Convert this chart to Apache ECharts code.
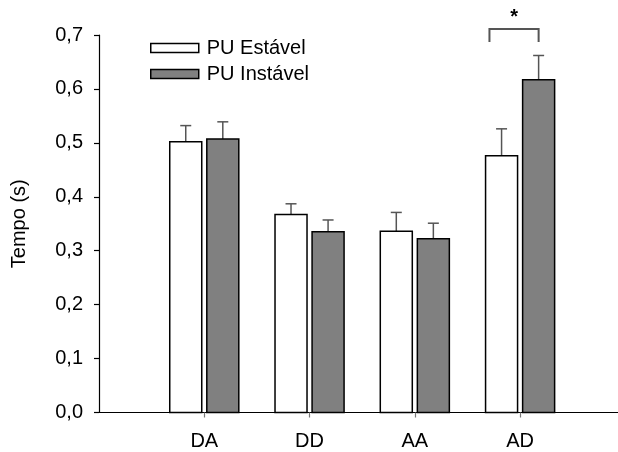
<!DOCTYPE html>
<html><head><meta charset="utf-8">
<script src="https://cdn.jsdelivr.net/npm/echarts@6/dist/echarts.min.js"></script>
<style>html,body{margin:0;padding:0;background:#fff}#c{width:618px;height:452px}</style>
</head><body><div id="c"></div>
<script>
const categories = ['DA', 'DD', 'AA', 'AD'];
const estavel = [0.502, 0.367, 0.336, 0.476];
const estavelErr = [0.030, 0.020, 0.035, 0.050];
const instavel = [0.507, 0.335, 0.322, 0.617];
const instavelErr = [0.032, 0.022, 0.029, 0.045];
const yTicks = [0, 0.1, 0.2, 0.3, 0.4, 0.5, 0.6, 0.7];
const sigCategory = 4; // AD
const sigLow = 0.687, sigHigh = 0.711, sigStarY = 0.733;

const FONT = 'Liberation Sans, Arial, sans-serif';
const FS = 20;
const OFF = 0.176, HW = 0.152;

function barRender(off, fill) {
  return function (params, api) {
    const x = api.value(0), v = api.value(1), e = api.value(2);
    const c = x + off;
    const p0 = api.coord([c - HW, 0]);
    const p1 = api.coord([c + HW, v]);
    const top = api.coord([c, v + e]);
    return {
      type: 'group',
      children: [
        { type: 'line', shape: { x1: top[0], y1: p1[1], x2: top[0], y2: top[1] }, style: { stroke: '#555', lineWidth: 1.5 } },
        { type: 'line', shape: { x1: top[0] - 5.5, y1: top[1], x2: top[0] + 5.5, y2: top[1] }, style: { stroke: '#555', lineWidth: 1.5 } },
        { type: 'rect', shape: { x: p0[0], y: p1[1], width: p1[0] - p0[0], height: p0[1] - p1[1] }, style: { fill: fill, stroke: '#000', lineWidth: 1.5 } }
      ]
    };
  };
}

const chart = echarts.init(document.getElementById('c'), null, { renderer: 'canvas' });
chart.setOption({
  animation: false,
  backgroundColor: '#fff',
  grid: { left: 99, right: 0, top: 35, bottom: 39.5, containLabel: false },
  legend: {
    orient: 'vertical', left: 145, top: 33, itemWidth: 48, itemHeight: 9, itemGap: 6,
    icon: 'rect',
    textStyle: { fontFamily: FONT, fontSize: FS, color: '#000', padding: [0, 0, 0, 3] },
    data: [
      { name: 'PU Estável', itemStyle: { color: '#fff', borderColor: '#000', borderWidth: 1.5 } },
      { name: 'PU Instável', itemStyle: { color: '#808080', borderColor: '#000', borderWidth: 1.5 } }
    ]
  },
  xAxis: {
    type: 'value', min: 0, max: 4.93, interval: 1,
    splitLine: { show: false },
    axisLine: { show: true, lineStyle: { color: '#000', width: 1.2 } },
    axisTick: { show: true, length: 5, lineStyle: { color: '#777', width: 1.2 } },
    axisLabel: {
      showMaxLabel: false, showMinLabel: false, margin: 19,
      fontFamily: FONT, fontSize: FS, color: '#000',
      formatter: v => categories[v - 1] || ''
    }
  },
  yAxis: {
    type: 'value', min: yTicks[0], max: yTicks[yTicks.length - 1], interval: 0.1,
    name: 'Tempo (s)', nameLocation: 'middle', nameGap: 70, nameRotate: 90,
    nameTextStyle: { fontFamily: FONT, fontSize: FS, fontWeight: 'normal', color: '#000' },
    splitLine: { show: false },
    axisLine: { show: true, lineStyle: { color: '#000', width: 1.2 } },
    axisTick: { show: true, inside: false, length: 5, lineStyle: { color: '#000', width: 1.2 } },
    axisLabel: {
      margin: 16, fontFamily: FONT, fontSize: FS, color: '#000',
      formatter: v => v.toFixed(1).replace('.', ',')
    }
  },
  series: [
    {
      name: 'PU Estável', type: 'custom', color: '#fff',
      renderItem: barRender(-OFF, '#fff'),
      encode: { x: 0, y: 1 },
      data: categories.map((c, i) => [i + 1, estavel[i], estavelErr[i]])
    },
    {
      name: 'PU Instável', type: 'custom', color: '#808080',
      renderItem: barRender(OFF, '#808080'),
      encode: { x: 0, y: 1 },
      data: categories.map((c, i) => [i + 1, instavel[i], instavelErr[i]])
    },
    {
      name: 'sig', type: 'custom', clip: false, silent: true,
      renderItem: function (params, api) {
        const x = api.value(0);
        const a = api.coord([x - OFF - 0.115, api.value(1)]);
        const b = api.coord([x + OFF, api.value(2)]);
        const s = api.coord([(x - OFF - 0.115 + x + OFF) / 2, api.value(3)]);
        return {
          type: 'group',
          children: [
            { type: 'polyline', shape: { points: [[a[0], a[1]], [a[0], b[1]], [b[0], b[1]], [b[0], a[1]]] }, style: { stroke: '#555', lineWidth: 2, fill: null } },
            { type: 'text', style: { text: '*', x: s[0], y: s[1], align: 'center', verticalAlign: 'middle', font: 'bold 20px ' + FONT, fill: '#000' } }
          ]
        };
      },
      data: [[sigCategory, sigLow, sigHigh, sigStarY]]
    }
  ]
});
</script></body></html>
